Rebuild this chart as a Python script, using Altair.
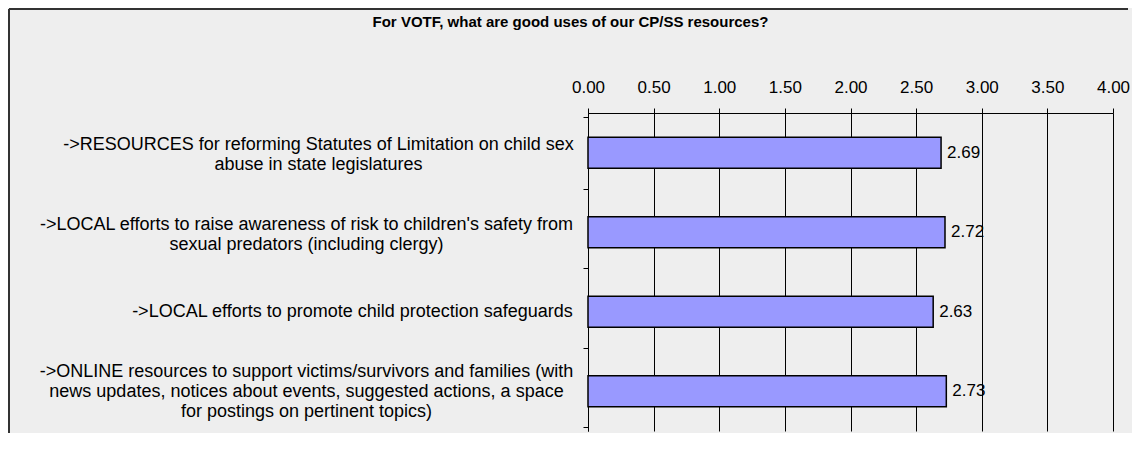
import altair as alt
import pandas as pd

# ---- data ----
categories = [
    "->RESOURCES for reforming Statutes of Limitation on child sex\nabuse in state legislatures",
    "->LOCAL efforts to raise awareness of risk to children's safety from\nsexual predators (including clergy)",
    "->LOCAL efforts to promote child protection safeguards",
    "->ONLINE resources to support victims/survivors and families (with\nnews updates, notices about events, suggested actions, a space\nfor postings on pertinent topics)",
]
scores = [2.69, 2.72, 2.63, 2.73]
x_ticks = [0, 0.5, 1.0, 1.5, 2.0, 2.5, 3.0, 3.5, 4.0]
title_text = "For VOTF, what are good uses of our CP/SS resources?"

df = pd.DataFrame({"item": categories, "score": scores})

FONT = "Liberation Sans"
PAD_L, PAD_T, PAD_R, PAD_B = 580, 105, 19, 2
W, H = 525, 318
CAT_FS = 18
LINE_H = 20


def per_label(v0, v1, v2, v3):
    return {
        "condition": [
            {"test": "datum.index < 0.1", "value": v0},
            {"test": "datum.index < 0.5", "value": v1},
            {"test": "datum.index < 0.9", "value": v2},
        ],
        "value": v3,
    }


# centred label blocks whose longest line ends ~15px left of the axis
label_pad = per_label(265, 277, 231, 277)
# shift multi-line blocks up so each block is centred on its band
label_off = per_label(-LINE_H / 2 + 2, -LINE_H / 2 + 2, 0, -LINE_H)

y_enc = alt.Y(
    "item:N",
    sort=None,
    title=None,
    axis=alt.Axis(
        orient="left",
        tickBand="extent",
        grid=False,
        domainColor="black",
        tickColor="black",
        tickSize=5,
        labelAlign="center",
        labelBaseline="middle",
        labelPadding=label_pad,
        labelOffset=label_off,
        labelLimit=700,
        labelFont=FONT,
        labelFontSize=CAT_FS,
        labelColor="black",
        labelLineHeight=LINE_H,
        labelExpr="split(datum.label, '\\n')",
    ),
)

x_enc = alt.X(
    "score:Q",
    title=None,
    scale=alt.Scale(domain=[0, 4], nice=False),
    axis=alt.Axis(
        orient="top",
        values=x_ticks,
        format=".2f",
        grid=True,
        gridColor="black",
        gridOpacity=1,
        domainColor="black",
        tickColor="black",
        tickSize=5,
        labelPadding=12,
        labelFlush=False,
        labelFont=FONT,
        labelFontSize=17,
        labelColor="black",
    ),
)

base = alt.Chart(df)

bars = base.mark_bar(
    color="#9999ff", stroke="black", strokeWidth=1.5, size=31
).encode(x=x_enc, y=y_enc)

values = base.mark_text(
    align="left", baseline="middle", dx=6, font=FONT, fontSize=17, color="black"
).encode(x="score:Q", y=alt.Y("item:N", sort=None), text=alt.Text("score:Q", format=".2f"))

# decorative outer frame (left and top edges only, as in the reference)
frame_src = pd.DataFrame({"k": [0]})
frame_left = alt.Chart(frame_src).mark_rule(color="#333333", strokeWidth=2).encode(
    x=alt.value(-PAD_L + 1),
    y=alt.value(-PAD_T + 1),
    y2=alt.value(H + PAD_B),
)
frame_top = alt.Chart(frame_src).mark_rule(color="#333333", strokeWidth=2).encode(
    x=alt.value(-PAD_L + 1),
    x2=alt.value(W + PAD_R - 4),
    y=alt.value(-PAD_T + 1),
)

chart = (
    alt.layer(bars, values, frame_left, frame_top)
    .properties(
        width=W,
        height=H,
        padding={"left": PAD_L, "top": PAD_T, "right": PAD_R, "bottom": PAD_B},
        autosize=alt.AutoSizeParams(type="none"),
        background="#eeeeee",
        title=alt.TitleParams(
            title_text,
            font=FONT,
            fontSize=15,
            fontWeight="bold",
            color="black",
            anchor="middle",
            frame="group",
            dx=-280,
            dy=42,
            offset=20,
        ),
    )
    .configure_view(stroke=None)
)

chart.save("out.html", embed_options={"renderer": "svg", "actions": False})
